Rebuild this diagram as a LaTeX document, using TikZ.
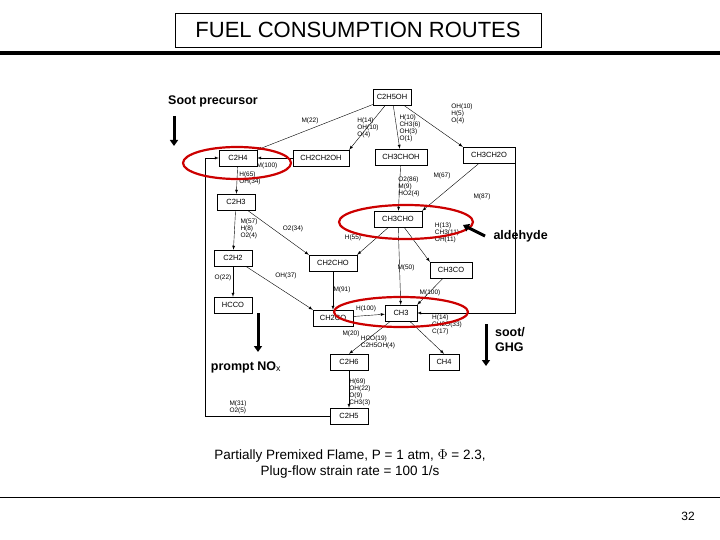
\documentclass[tikz,border=0pt]{standalone}
\usepackage{fontspec}
\setmainfont{Liberation Sans}
\usetikzlibrary{arrows.meta}
\begin{document}
\begin{tikzpicture}[x=1pt,y=-1pt,
 sp/.style={draw,thin,inner sep=0pt,minimum width=38pt,minimum height=16pt,font=\fontsize{7.5}{8}\selectfont},
 lb/.style={font=\fontsize{6.5}{7}\selectfont,align=left,inner sep=0pt},
 ar/.style={-latex,thin},
 hl/.style={draw=red!80!black,line width=2.2pt},
 big/.style={line width=3pt,-{Triangle[width=8pt,length=6pt]}},
 bold/.style={font=\bfseries\fontsize{12.5}{15}\selectfont},
 captxt/.style={font=\fontsize{13.5}{16}\selectfont,align=center}]
\useasboundingbox (0,0) rectangle (720,540);
\node[draw,thick,minimum width=366pt,minimum height=34pt,font=\fontsize{22}{24}\selectfont] (title) at (358,30) {FUEL CONSUMPTION ROUTES};
\draw[line width=4pt] (0,53) -- (720,53);
\draw[thin] (0,497) -- (720,497);
\node[font=\fontsize{12}{14}\selectfont] (pg) at (688,516) {32};
% species
\node[sp] (etoh) at (392,97) {C2H5OH};
\node[sp] (c2h4) at (238,158) {C2H4};
\node[sp,minimum width=56pt] (ch2ch2oh) at (321,158) {CH2CH2OH};
\node[sp,minimum width=52pt] (ch3choh) at (401,157) {CH3CHOH};
\node[sp,minimum width=52pt] (ch3ch2o) at (489,155) {CH3CH2O};
\node[sp] (c2h3) at (236,202) {C2H3};
\node[sp,minimum width=48pt] (ch3cho) at (398,219) {CH3CHO};
\node[sp,minimum width=48pt] (ch2cho) at (333,263) {CH2CHO};
\node[sp,minimum width=42pt] (ch3co) at (451,270) {CH3CO};
\node[sp] (c2h2) at (233,258) {C2H2};
\node[sp] (hcco) at (233,305) {HCCO};
\node[sp,minimum width=40pt] (ch2co) at (333,318) {CH2CO};
\node[sp,minimum width=32pt] (ch3) at (401,313) {CH3};
\node[sp] (c2h6) at (349,362) {C2H6};
\node[sp,minimum width=30pt] (ch4) at (444,362) {CH4};
\node[sp] (c2h5) at (349,416) {C2H5};
% edges
\draw[ar] (etoh) -- (c2h4.north east);
\draw[ar] (etoh) -- (ch2ch2oh.north east);
\draw[ar] (etoh) -- (ch3choh);
\draw[ar] (etoh) -- (ch3ch2o.north west);
\draw[ar] (ch2ch2oh) -- (c2h4);
\draw[ar] (c2h4) -- (c2h3);
\draw[ar] (ch3choh) -- (ch3cho);
\draw[ar] (ch3ch2o) -- (ch3cho.north east);
\draw[ar] (ch3ch2o.south east) |- (ch3);
\draw[ar] (c2h3) -- (c2h2);
\draw[ar] (c2h3) -- (ch2cho.north west);
\draw[ar] (ch3cho) -- (ch2cho.north east);
\draw[ar] (ch3cho) -- (ch3co.north west);
\draw[ar] (ch3cho) -- (ch3);
\draw[ar] (ch3co) -- (ch3.north east);
\draw[ar] (c2h2) -- (hcco);
\draw[ar] (c2h2) -- (ch2co.north west);
\draw[ar] (ch2cho) -- (ch2co);
\draw[ar] (ch2co) -- (ch3);
\draw[ar] (ch3) -- (c2h6.north);
\draw[ar] (ch3) -- (ch4.north);
\draw[ar] (c2h6) -- (c2h5);
\coordinate (lc) at (205,416);
\draw[ar] (c2h5) -- (lc) |- (c2h4);
% labels
\node[lb] (l1) at (310,121) {M(22)};
\node[lb] (l2) at (368,128) {H(14)\\OH(10)\\O(4)};
\node[lb] (l3) at (410,128) {H(10)\\CH3(6)\\OH(3)\\O(1)};
\node[lb] (l4) at (462,114) {OH(10)\\H(5)\\O(4)};
\node[lb] (l5) at (267,166) {M(100)};
\node[lb] (l6) at (250,178) {H(65)\\OH(34)};
\node[lb] (l7) at (409,187) {O2(86)\\M(9)\\HO2(4)};
\node[lb] (l8) at (442,176) {M(67)};
\node[lb] (l9) at (482,197) {M(87)};
\node[lb] (l10) at (249,229) {M(57)\\H(8)\\O2(4)};
\node[lb] (l11) at (293,229) {O2(34)};
\node[lb] (l12) at (353,238) {H(55)};
\node[lb] (l13) at (447,233) {H(13)\\CH3(11)\\OH(11)};
\node[lb] (l14) at (406,268) {M(50)};
\node[lb] (l15) at (430,293) {M(100)};
\node[lb] (l16) at (223,278) {O(22)};
\node[lb] (l17) at (286,276) {OH(37)};
\node[lb] (l18) at (342,290) {M(91)};
\node[lb] (l19) at (366,309) {H(100)};
\node[lb] (l20) at (351,334) {M(20)};
\node[lb] (l21) at (447,325) {H(14)\\CH2O(33)\\C(17)};
\node[lb] (l22) at (378,342) {HCO(19)\\C2H5OH(4)};
\node[lb] (l23) at (360,392) {H(69)\\OH(22)\\O(9)\\CH3(3)};
\node[lb] (l24) at (238,407) {M(31)\\O2(5)};
% highlights
\draw[hl] (237,163) ellipse (54pt and 16pt);
\draw[hl] (406,222) ellipse (67pt and 17pt);
\draw[hl] (401,312) ellipse (67pt and 15pt);
% annotations
\node[bold] (sp1) at (213,101) {Soot precursor};
\coordinate (a1) at (174,116); \coordinate (a2) at (174,146);
\draw[big] (a1) -- (a2);
\node[bold,anchor=west] (ald) at (490,236) {aldehyde};
\coordinate (b1) at (485,236); \coordinate (b2) at (463,225);
\draw[big] (b1) -- (b2);
\node[bold] (pn) at (246,367) {prompt NO$_\mathrm{x}$};
\coordinate (c1) at (258,313); \coordinate (c2) at (258,352);
\draw[big] (c1) -- (c2);
\node[bold,align=left] (sg) at (510,340) {soot/\\GHG};
\coordinate (d1) at (486,324); \coordinate (d2) at (486,366);
\draw[big] (d1) -- (d2);
\node[captxt] (cp) at (350,464) {Partially Premixed Flame, P = 1 atm, $\Phi$ = 2.3,\\Plug-flow strain rate = 100 1/s};
\end{tikzpicture}
\end{document}
